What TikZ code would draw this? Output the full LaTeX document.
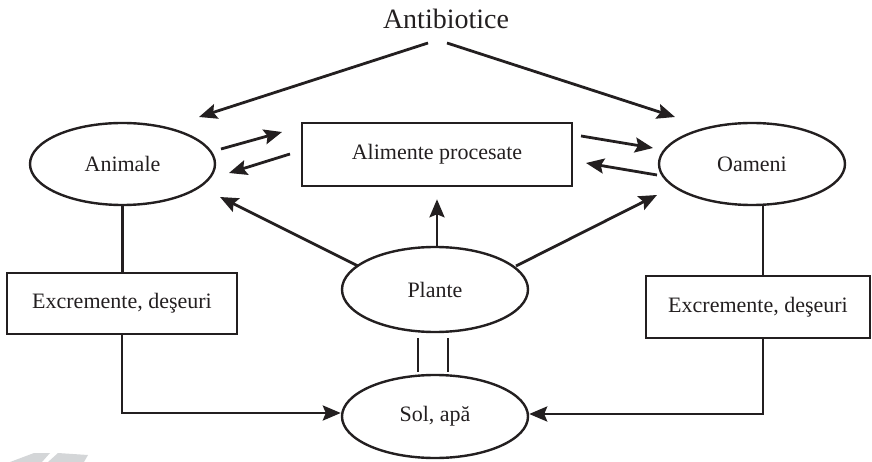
\documentclass[tikz,border=0pt]{standalone}
\usepackage{fontspec}
\setmainfont{Liberation Serif}
\usetikzlibrary{arrows.meta,shapes.geometric}
\definecolor{ink}{HTML}{231F20}
\definecolor{faint}{HTML}{D4D6D8}
\tikzset{
  every node/.style={text=ink, font=\fontsize{22}{24}\selectfont},
  ell/.style={draw=ink, line width=2.4pt, ellipse, inner sep=0pt, minimum width=186pt, minimum height=83pt},
  boxnode/.style={draw=ink, line width=2.6pt, rectangle, inner sep=0pt},
  conn/.style={draw=ink, line width=2.8pt},
  arr/.style={conn, -{Stealth[length=18pt,width=15pt,inset=3pt]}}
}
\begin{document}
\begin{tikzpicture}[x=1pt,y=-1pt]
\useasboundingbox (0,0) rectangle (872,462);
% faint mark bottom left
\fill[faint] (10,462) -- (34,453) -- (50,453) -- (42,462) -- cycle;
\fill[faint] (48,462) -- (58,453) -- (88,455) -- (84,462) -- cycle;

\node[font=\fontsize{28}{30}\selectfont] (anti) at (446,19) {Antibiotice};
\node[ell, minimum width=185pt, minimum height=82pt] (anim) at (122.5,164) {Animale};
\node[boxnode, minimum width=270pt, minimum height=63pt] (alim) at (437,154.5) {Alimente procesate};
\node[ell, minimum width=186pt, minimum height=82pt] (oam) at (752,164) {Oameni};
\node[ell, minimum height=85pt] (plan) at (435,289.5) {Plante};
\node[ell] (sol) at (435,416.5) {Sol, apă};
\node[boxnode, minimum width=230pt, minimum height=61pt] (exl) at (122,303.5) {Excremente, deşeuri};
\node[boxnode, minimum width=224pt, minimum height=62pt] (exr) at (758,307) {Excremente, deşeuri};

% Antibiotice arrows
\draw[arr] ([shift={(-18,24)}]anti.center) -- ([shift={(76.5,-47)}]anim.center);
\draw[arr] ([shift={(1,24)}]anti.center) -- ([shift={(-77,-47)}]oam.center);
% Animale <-> Alimente
\draw[arr] ([shift={(98.5,-15)}]anim.center) -- ([shift={(-155,-22.5)}]alim.center);
\draw[arr] ([shift={(-147,-0.5)}]alim.center) -- ([shift={(106.5,9)}]anim.center);
% Alimente <-> Oameni
\draw[arr] ([shift={(144,-18.5)}]alim.center) -- ([shift={(-99,-16)}]oam.center);
\draw[arr] ([shift={(-95,11)}]oam.center) -- ([shift={(149,8.5)}]alim.center);
% Plante arrows
\draw[arr] ([shift={(-77,-23.5)}]plan.center) -- ([shift={(97.5,33)}]anim.center);
\draw[arr] ([shift={(2,0)}]plan.north) -- ([shift={(0,12)}]alim.south);
\draw[arr] ([shift={(81,-23.5)}]plan.center) -- ([shift={(-95,31)}]oam.center);
% vertical links
\draw[conn] (anim.south) -- (anim.south |- exl.north);
\draw[conn] ([xshift=11pt]oam.south) -- ([xshift=5pt]exr.north);
\draw[conn] ([shift={(-17,5)}]plan.south) -- ([shift={(-17,-2)}]sol.north);
\draw[conn] ([shift={(13,5)}]plan.south) -- ([shift={(13,-2)}]sol.north);
% to soil
\draw[arr] (exl.south) |- ([yshift=3.5pt]sol.west);
\draw[arr] ([xshift=5pt]exr.south) |- ([yshift=2.5pt]sol.east);
\end{tikzpicture}
\end{document}
